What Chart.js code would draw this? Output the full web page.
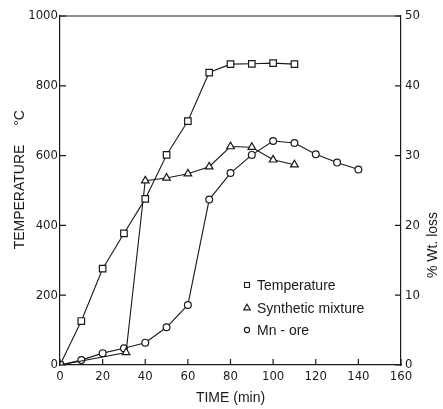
<!DOCTYPE html>
<html><head><meta charset="utf-8">
<script src="https://cdn.jsdelivr.net/npm/chart.js@4/dist/chart.umd.min.js"></script>
<style>html,body{margin:0;padding:0;background:#fff}</style>
</head><body>
<canvas id="c" width="443" height="409" style="display:block;width:443px;height:409px"></canvas>
<script>
// ---- data ----
const timeTemp    = [0, 10, 20, 30, 40, 50, 60, 70, 80, 90, 100, 110];
const temperature = [0, 126, 276, 377, 476, 602, 699, 838, 862, 863, 865, 862];
const timeSynth   = [0, 31, 40, 50, 60, 70, 80, 90, 100, 110];
const synthLoss   = [0, 1.8, 26.4, 26.8, 27.4, 28.4, 31.3, 31.2, 29.4, 28.7];
const timeMn      = [0, 10, 20, 30, 40, 50, 60, 70, 80, 90, 100, 110, 120, 130, 140];
const mnLoss      = [0, 0.7, 1.7, 2.4, 3.2, 5.4, 8.6, 23.7, 27.5, 30.1, 32.1, 31.8, 30.2, 29.0, 28.0];
const timeTicks   = [0, 20, 40, 60, 80, 100, 120, 140, 160];
const tempTicks   = [0, 200, 400, 600, 800, 1000];
const lossTicks   = [0, 10, 20, 30, 40, 50];
const seriesNames = ['Temperature', 'Synthetic mixture', 'Mn - ore'];
const xTitle = 'TIME (min)';
const yTitle = 'TEMPERATURE';
const yUnit = '°C';
const y2Title = '% Wt. loss';

const INK = '#1a1a1a';
const tickFont = {family: "'DejaVu Sans Condensed','DejaVu Sans',sans-serif", weight: 'condensed', size: 13};
const labelFont = "14px 'Liberation Sans','Arial',sans-serif";

const pts = (xs, ys) => xs.map((x, i) => ({x, y: ys[i]}));

function series(label, data, axis, style, radius) {
  return {
    label, data, yAxisID: axis,
    borderColor: INK, borderWidth: 1.1,
    pointStyle: style, pointRadius: radius, pointHoverRadius: radius,
    pointBackgroundColor: '#fff', pointBorderColor: INK, pointBorderWidth: 1.2,
    tension: 0, fill: false
  };
}

const decor = {
  id: 'decor',
  afterDraw(chart) {
    const ctx = chart.ctx, a = chart.chartArea;
    const sx = chart.scales.x, sy = chart.scales.y, sy2 = chart.scales.y2;
    ctx.save();
    ctx.strokeStyle = INK; ctx.lineWidth = 1.2;
    // top frame line
    ctx.beginPath(); ctx.moveTo(a.left, a.top); ctx.lineTo(a.right, a.top); ctx.stroke();
    // inward ticks
    const L = 6;
    ctx.beginPath();
    timeTicks.forEach(v => { const p = sx.getPixelForValue(v); ctx.moveTo(p, a.bottom); ctx.lineTo(p, a.bottom - L); });
    tempTicks.forEach(v => { const p = sy.getPixelForValue(v); ctx.moveTo(a.left, p); ctx.lineTo(a.left + L, p); });
    lossTicks.forEach(v => { const p = sy2.getPixelForValue(v); ctx.moveTo(a.right, p); ctx.lineTo(a.right - L, p); });
    ctx.stroke();
    // axis titles (rotated, reading upward)
    ctx.fillStyle = INK; ctx.font = labelFont; ctx.textBaseline = 'middle';
    ctx.save(); ctx.translate(20, 197); ctx.rotate(-Math.PI / 2); ctx.textAlign = 'center'; ctx.fillText(yTitle, 0, 0); ctx.restore();
    ctx.save(); ctx.translate(20, 118); ctx.rotate(-Math.PI / 2); ctx.textAlign = 'center'; ctx.fillText(yUnit, 0, 0); ctx.restore();
    ctx.save(); ctx.translate(433, 245); ctx.rotate(-Math.PI / 2); ctx.textAlign = 'center'; ctx.fillText(y2Title, 0, 0); ctx.restore();
    // legend inside plot
    const rows = [285, 308, 330];
    const radii = [3.5, 3.8, 2.6];
    chart.data.datasets.forEach((ds, i) => {
      ctx.fillStyle = '#fff'; ctx.strokeStyle = INK; ctx.lineWidth = 1.1;
      Chart.helpers.drawPoint(ctx, {pointStyle: ds.pointStyle, rotation: 0, radius: radii[i], borderWidth: 1.1}, 247, rows[i]);
      ctx.fillStyle = INK; ctx.textAlign = 'left';
      ctx.fillText(ds.label, 257, rows[i] + 1);
    });
    ctx.restore();
  }
};

const plain = v => String(v);

new Chart(document.getElementById('c'), {
  type: 'line',
  data: {
    datasets: [
      series(seriesNames[0], pts(timeTemp, temperature), 'y', 'rect', 4.6),
      series(seriesNames[1], pts(timeSynth, synthLoss), 'y2', 'triangle', 4.4),
      series(seriesNames[2], pts(timeMn, mnLoss), 'y2', 'circle', 3.4)
    ]
  },
  options: {
    responsive: false, animation: false,
    layout: {padding: {top: 16, left: 0, right: 0, bottom: 0}},
    plugins: {legend: {display: false}, tooltip: {enabled: false}},
    scales: {
      x: {
        type: 'linear', min: 0, max: 160,
        afterBuildTicks: s => { s.ticks = timeTicks.map(v => ({value: v})); },
        afterFit: s => { s.height = 44; },
        ticks: {color: INK, font: tickFont, padding: 4, maxRotation: 0, callback: plain},
        grid: {display: false, drawTicks: false, tickLength: 0},
        border: {display: true, color: INK, width: 1.2},
        title: {display: true, text: xTitle, color: INK, font: {family: "'Liberation Sans',Arial,sans-serif", size: 14}, padding: {top: 0, bottom: 2}}
      },
      y: {
        position: 'left', min: 0, max: 1000,
        afterBuildTicks: s => { s.ticks = tempTicks.map(v => ({value: v})); },
        afterFit: s => { s.width = 60; },
        ticks: {color: INK, font: tickFont, padding: 2, callback: plain},
        grid: {display: false, drawTicks: false, tickLength: 0},
        border: {display: true, color: INK, width: 1.2}
      },
      y2: {
        position: 'right', min: 0, max: 50,
        afterBuildTicks: s => { s.ticks = lossTicks.map(v => ({value: v})); },
        afterFit: s => { s.width = 42; },
        ticks: {color: INK, font: tickFont, padding: 4, callback: plain},
        grid: {display: false, drawTicks: false, tickLength: 0},
        border: {display: true, color: INK, width: 1.2}
      }
    }
  },
  plugins: [decor]
});
</script>
</body></html>
